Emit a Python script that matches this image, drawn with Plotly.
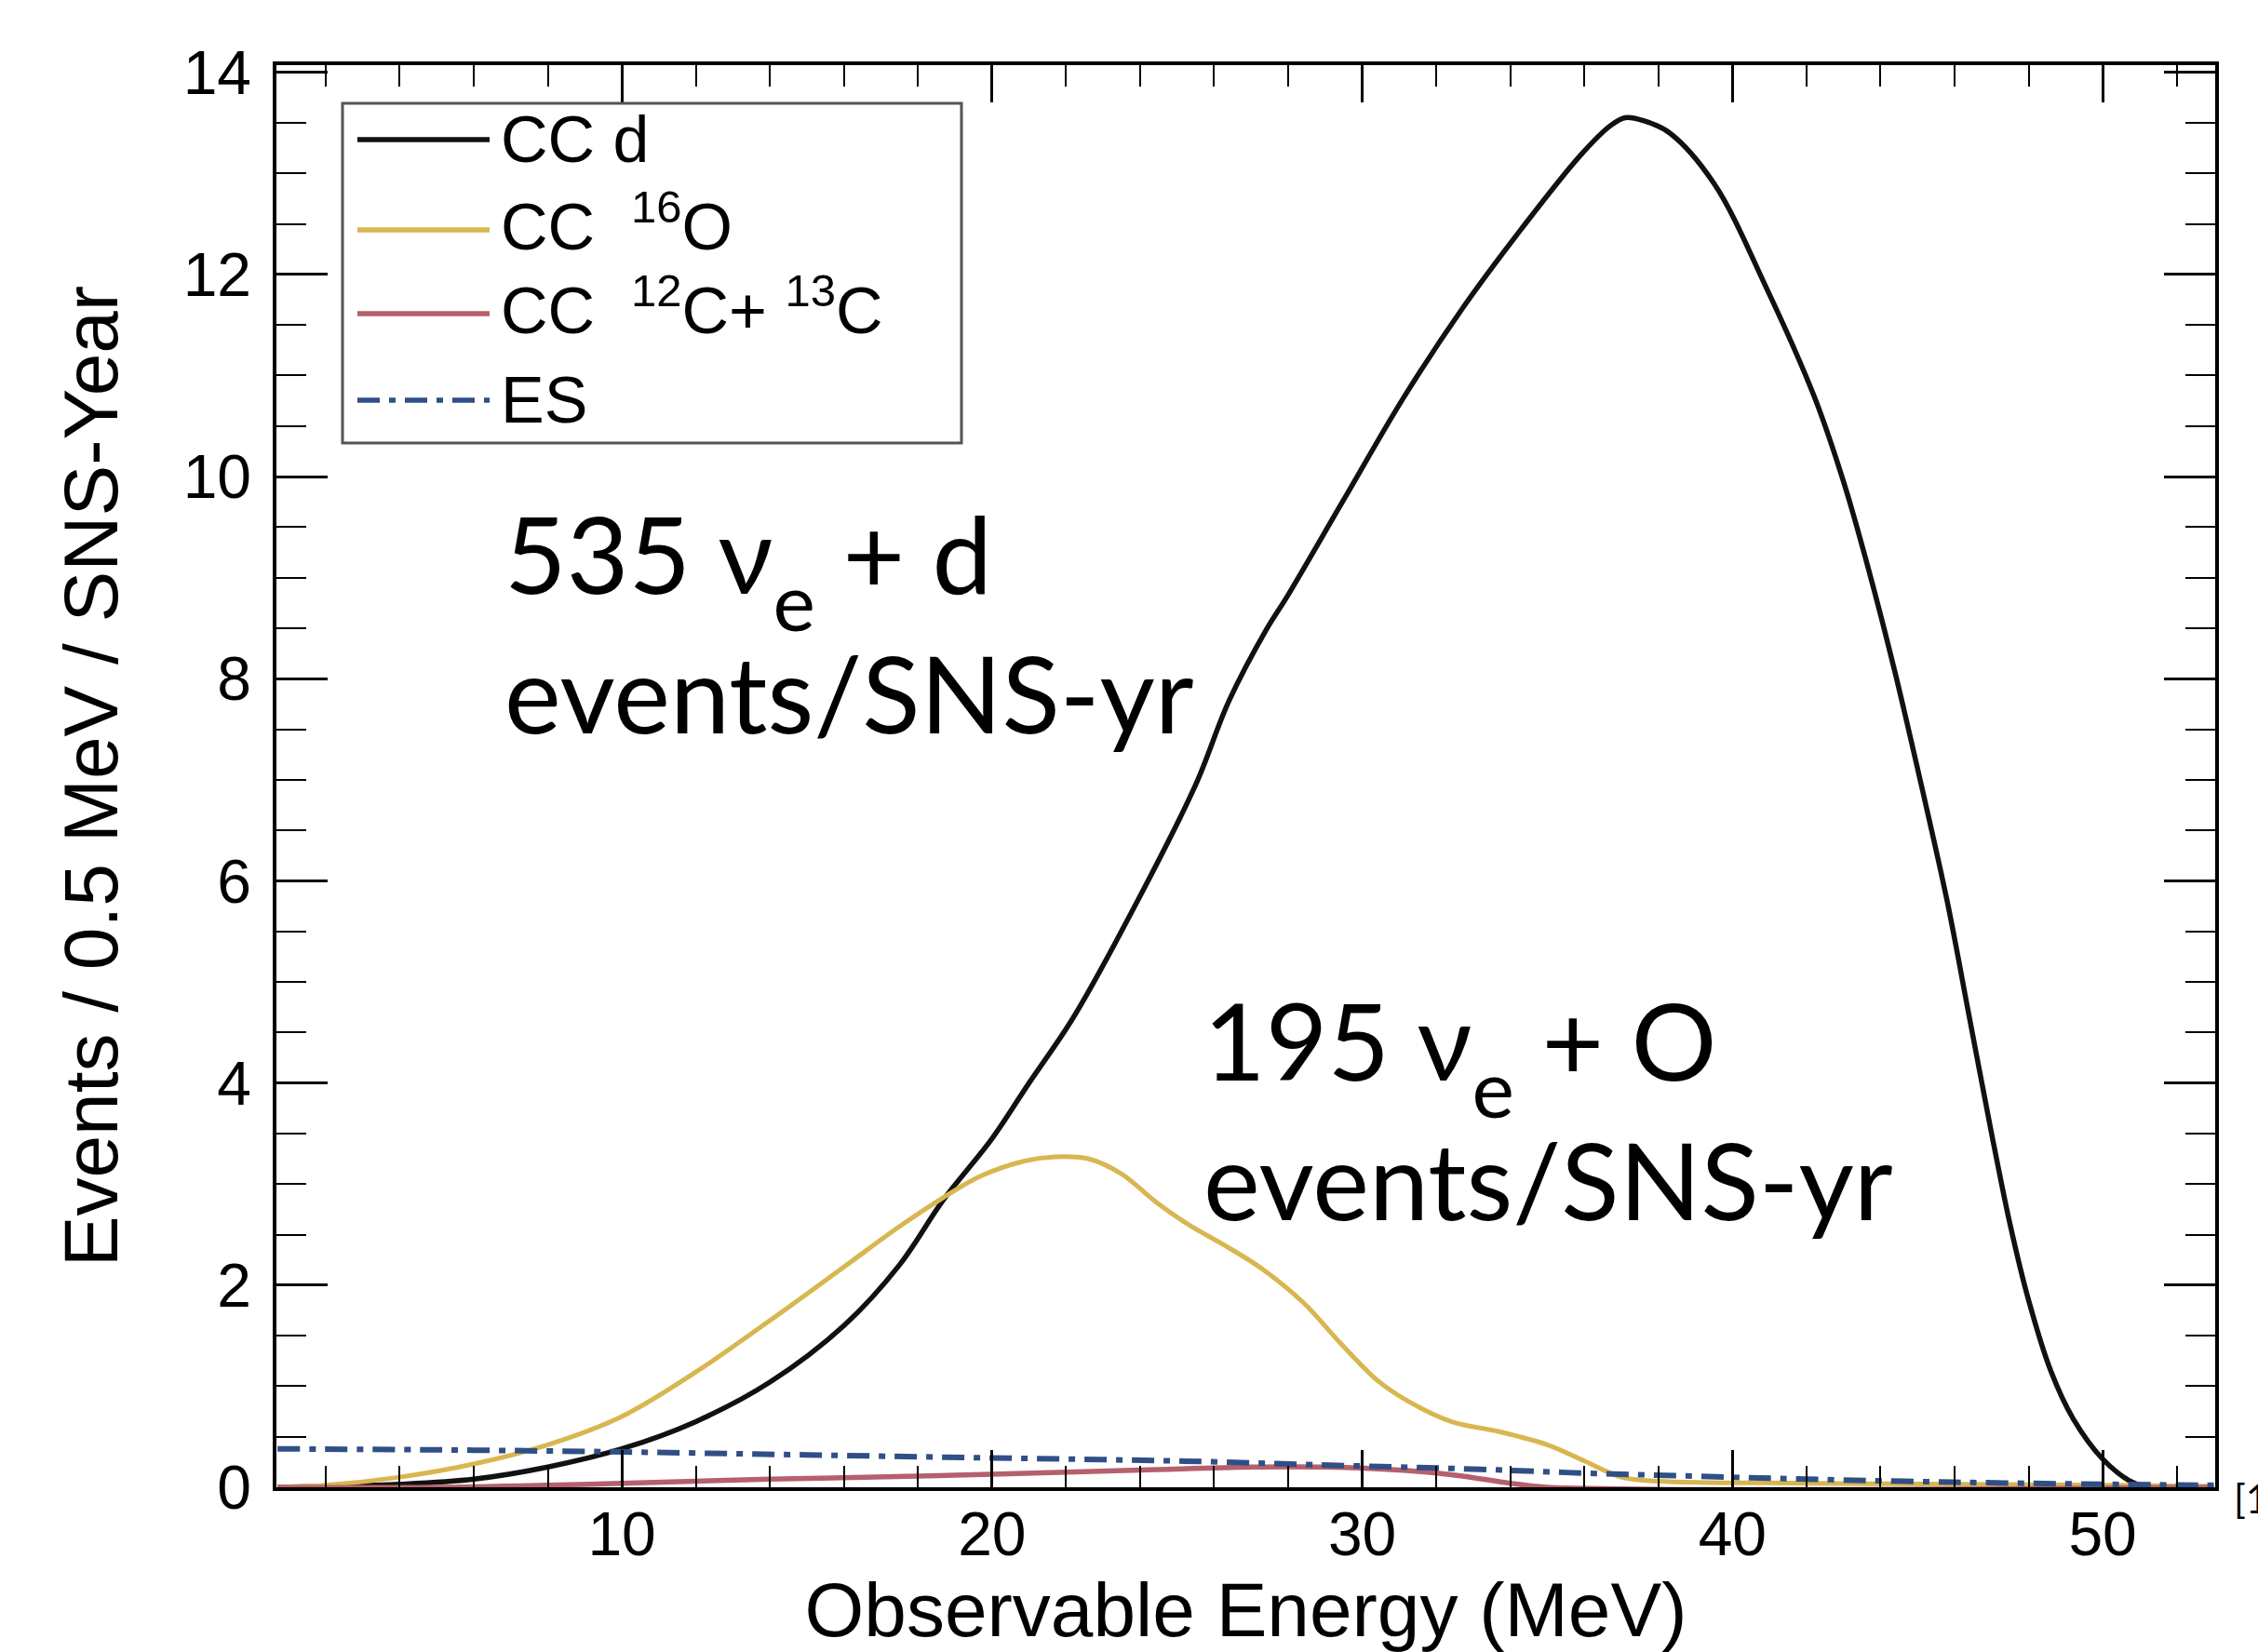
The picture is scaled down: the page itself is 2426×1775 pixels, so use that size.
import plotly.graph_objects as go

# ---------------- data ----------------
cc_d_x = [0.7, 2.0, 4.0, 6.0, 8.0, 10.0, 12.0, 14.0, 16.0, 17.5, 18.7, 20.0, 21.0, 22.2,
          23.9, 25.5, 26.4, 27.4, 28.0, 29.5, 31.1, 32.7, 34.3, 35.9, 36.7, 37.1, 37.6,
          38.3, 39.5, 40.9, 42.2, 43.0, 43.7, 44.4, 45.1, 45.8, 46.4, 47.0, 47.5, 48.0,
          48.6, 49.2, 50.0, 50.8, 51.3, 53.0]
cc_d_y = [0.0, 0.01, 0.03, 0.08, 0.2, 0.38, 0.65, 1.04, 1.6, 2.2, 2.85, 3.45, 4.0, 4.65,
          5.78, 6.95, 7.78, 8.48, 8.83, 9.77, 10.77, 11.66, 12.45, 13.18, 13.47, 13.55, 13.52,
          13.4, 12.9, 11.88, 10.8, 9.95, 9.05, 8.05, 6.95, 5.8, 4.65, 3.5, 2.6, 1.85,
          1.15, 0.68, 0.28, 0.05, 0.0, 0.0]

cc_o_x = [0.7, 2.0, 4.0, 6.0, 8.0, 10.0, 12.0, 14.0, 16.0, 17.5, 18.7, 19.7, 20.9, 21.7,
          22.6, 23.5, 24.4, 25.3, 26.3, 27.3, 28.4, 29.4, 30.4, 31.2, 32.4, 33.7, 35.0,
          36.0, 37.0, 38.0, 42.0, 46.0, 50.0, 53.0]
cc_o_y = [0.0, 0.02, 0.1, 0.23, 0.42, 0.7, 1.14, 1.65, 2.18, 2.58, 2.87, 3.08, 3.23, 3.27,
          3.25, 3.10, 2.83, 2.60, 2.39, 2.16, 1.83, 1.43, 1.06, 0.86, 0.65, 0.55, 0.42,
          0.26, 0.10, 0.06, 0.04, 0.03, 0.02, 0.01]

cc_c_x = [0.7, 5.0, 8.0, 10.0, 14.0, 18.0, 20.0, 24.0, 27.0, 29.0, 31.0, 32.5, 34.0, 35.0, 53.0]
cc_c_y = [0.0, 0.0, 0.02, 0.04, 0.08, 0.11, 0.13, 0.17, 0.2, 0.2, 0.17, 0.12, 0.04, 0.0, 0.0]

es_x = [0.7, 5.0, 10.0, 15.0, 20.0, 25.0, 30.0, 33.0, 36.0, 39.0, 42.0, 46.0, 50.0, 53.0]
es_y = [0.38, 0.37, 0.35, 0.32, 0.29, 0.26, 0.21, 0.18, 0.14, 0.11, 0.08, 0.05, 0.03, 0.02]

series_names = ["CC d", "CC&nbsp; <sup>16</sup>O", "CC&nbsp; <sup>12</sup>C+ <sup>13</sup>C", "ES"]
x_tick_vals = [10, 20, 30, 40, 50]
y_tick_vals = [0, 2, 4, 6, 8, 10, 12, 14]

# ---------------- styling ----------------
W, H = 2426, 1775
L, R, T, B = 297, 2380, 70, 1598          # plot-area pixel edges
C_D, C_O, C_C, C_ES = "#111111", "#d8b650", "#b5606c", "#2f4f86"
ES_DASH = "24px,10px,7px,10px"
AX_FONT = "Liberation Sans, Arial, Helvetica, sans-serif"
NOTE_FONT = "Lato, 'Open Sans', 'Noto Sans', sans-serif"
SUB_E = '<span style="font-size:86px;baseline-shift:-40px">e</span>'


def px(xp):
    return (xp - L) / (R - L)


def py(yp):
    return (B - yp) / (B - T)


fig = go.Figure()
fig.add_trace(go.Scatter(x=cc_d_x, y=cc_d_y, name="CC d", mode="lines",
                         line=dict(color=C_D, width=5.5, shape="spline", smoothing=1.0),
                         cliponaxis=False))
fig.add_trace(go.Scatter(x=cc_o_x, y=cc_o_y, name="CC 16O", mode="lines",
                         line=dict(color=C_O, width=5, shape="spline", smoothing=1.0),
                         cliponaxis=False))
fig.add_trace(go.Scatter(x=cc_c_x, y=cc_c_y, name="CC 12C+13C", mode="lines",
                         line=dict(color=C_C, width=5.5, shape="spline", smoothing=1.0),
                         cliponaxis=False))
fig.add_trace(go.Scatter(x=es_x, y=es_y, name="ES", mode="lines",
                         line=dict(color=C_ES, width=6, dash=ES_DASH, shape="spline", smoothing=1.0),
                         cliponaxis=False))

# ---------------- manual legend ----------------
shapes = [dict(type="rect", xref="paper", yref="paper",
               x0=px(368), x1=px(1033), y0=py(111), y1=py(476),
               line=dict(color="#555555", width=3), fillcolor="rgba(255,255,255,0)")]
row_y = [150, 247, 337, 430]
text_dy = [0, 8, 8, 0]
row_col = [C_D, C_O, C_C, C_ES]
annotations = []
for i, name in enumerate(series_names):
    shapes.append(dict(type="line", xref="paper", yref="paper",
                       x0=px(384), x1=px(526), y0=py(row_y[i]), y1=py(row_y[i]),
                       line=dict(color=row_col[i], width=5.5,
                                 dash=(ES_DASH if i == 3 else "solid"))))
    annotations.append(dict(xref="paper", yref="paper", x=px(536), y=py(row_y[i] - text_dy[i]),
                            xanchor="left", yanchor="middle", showarrow=False,
                            text=name, font=dict(family=AX_FONT, size=70, color="black")))

# ---------------- slide text ----------------
annotations.append(dict(xref="paper", yref="paper", x=px(540), y=py(522),
                        xanchor="left", yanchor="top", showarrow=False, align="left",
                        text="535 ν" + SUB_E + " + d<br>events/SNS-yr",
                        font=dict(family=NOTE_FONT, size=115, color="black")))
annotations.append(dict(xref="paper", yref="paper", x=px(1291), y=py(1045),
                        xanchor="left", yanchor="top", showarrow=False, align="left",
                        text="195 ν" + SUB_E + " + O<br>events/SNS-yr",
                        font=dict(family=NOTE_FONT, size=115, color="black")))
annotations.append(dict(xref="paper", yref="paper", x=px(2398), y=py(1610),
                        xanchor="left", yanchor="middle", showarrow=False,
                        text="[1]", font=dict(family=NOTE_FONT, size=42, color="black")))

fig.update_layout(
    width=W, height=H,
    margin=dict(l=L, r=W - R, t=T, b=H - B, autoexpand=False),
    paper_bgcolor="white", plot_bgcolor="white",
    showlegend=False,
    shapes=shapes, annotations=annotations,
    font=dict(family=AX_FONT, color="black"),
)
fig.update_xaxes(
    range=[0.67, 53.04], tickmode="array", tickvals=x_tick_vals,
    ticks="inside", ticklen=40, tickwidth=2.5, tickcolor="black",
    showline=True, linewidth=3.5, linecolor="black", mirror="ticks",
    minor=dict(tickmode="linear", tick0=0, dtick=2, ticks="inside", ticklen=23,
               tickwidth=2, tickcolor="black"),
    showgrid=False, zeroline=False, automargin=False,
    tickfont=dict(family=AX_FONT, size=66, color="black"), ticklabelstandoff=-10,
    title=dict(text="Observable Energy (MeV)", standoff=22,
               font=dict(family=AX_FONT, size=82, color="black")),
)
fig.update_yaxes(
    range=[0, 14.07], tickmode="array", tickvals=y_tick_vals,
    ticks="inside", ticklen=55, tickwidth=2.5, tickcolor="black",
    showline=True, linewidth=3.5, linecolor="black", mirror="ticks",
    minor=dict(tickmode="linear", tick0=0, dtick=0.5, ticks="inside", ticklen=32,
               tickwidth=2, tickcolor="black"),
    showgrid=False, zeroline=False, automargin=False,
    tickfont=dict(family=AX_FONT, size=66, color="black"), ticklabelstandoff=10,
    title=dict(text="Events / 0.5 MeV / SNS-Year", standoff=44,
               font=dict(family=AX_FONT, size=82, color="black")),
)

fig.write_html("out.html")
